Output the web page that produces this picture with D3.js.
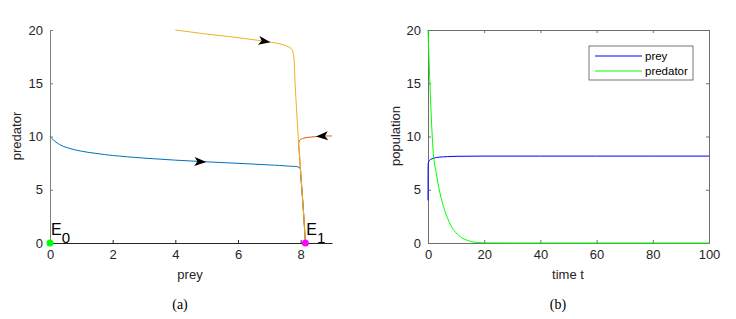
<!DOCTYPE html>
<html>
<head>
<meta charset="utf-8">
<script src="https://cdn.jsdelivr.net/npm/d3@7"></script>
<style>
  body { margin: 0; background: #fff; }
  svg { display: block; font-family: Helvetica, Arial, "Liberation Sans", sans-serif; }
  .tick text { fill: #262626; font-size: 13px; }
</style>
</head>
<body>
<svg id="chart" width="736" height="319"></svg>
<script>
// ---- data: phase portrait (a) ----
var blueTraj = [[0,10],[0.1,9.7],[0.3,9.25],[0.6,8.9],[1,8.62],[1.5,8.4],[2,8.22],[3,7.97],[4,7.78],[5,7.62],[6,7.48],[7,7.33],[7.6,7.22],[7.97,7.06],[8.0,6.3],[8.04,5],[8.1,2.5],[8.15,0]];
var yellowTraj = [[4,20],[5,19.62],[6,19.28],[6.8,18.96],[7.3,18.72],[7.55,18.5],[7.7,18.25],[7.77,17.7],[7.82,15],[7.87,12.5],[7.92,10],[7.98,7.5],[8.04,5],[8.1,2.5],[8.15,0]];
var redTraj = [[9,10.05],[8.8,10.05],[8.6,10.02],[8.35,9.95],[8.1,9.85],[7.96,9.6],[7.97,8],[8.04,5],[8.1,2.5],[8.15,0]];
var arrows = [
  { x: 4.8, y: 7.63, dir: 1, traj: "blue" },
  { x: 6.85, y: 18.94, dir: 1, traj: "yellow" },
  { x: 8.68, y: 10.04, dir: -1, traj: "red" }
];
var equilibria = [
  { x: 0, y: 0, label: "E", sub: "0", color: "#00ff00" },
  { x: 8.15, y: 0, label: "E", sub: "1", color: "#ff00ff" }
];
var phaseXTicks = [0, 2, 4, 6, 8];
var phaseYTicks = [0, 5, 10, 15, 20];

// ---- data: time series (b) ----
var preyT = [0, 0.05, 0.3, 0.8, 2, 4, 7, 10, 20, 40, 60, 80, 100];
var preyV = [4, 7.4, 7.65, 7.82, 7.96, 8.06, 8.11, 8.14, 8.16, 8.16, 8.16, 8.16, 8.16];
var predT = [0, 1.9, 3, 4, 5, 6, 7, 8, 10, 12, 14, 16, 18, 20, 30, 100];
var predV = [20, 8.4, 6.5, 5.0, 3.9, 3.0, 2.3, 1.7, 0.95, 0.5, 0.25, 0.1, 0.04, 0.01, 0, 0];
var timeTicks = [0, 20, 40, 60, 80, 100];
var popTicks = [0, 5, 10, 15, 20];

var svg = d3.select("#chart");

// ===== panel (a) =====
var xA = d3.scaleLinear().domain([0, 9]).range([50, 332]);
var yA = d3.scaleLinear().domain([0, 20]).range([243, 30]);

var gA = svg.append("g");

gA.append("g")
    .attr("transform", "translate(0,243)")
    .call(d3.axisBottom(xA).tickValues(phaseXTicks).tickSize(-3).tickPadding(7).tickSizeOuter(0))
    .call(function(g) {
      g.select(".domain").attr("stroke", "#262626");
      g.selectAll(".tick line").attr("stroke", "#262626");
    });

gA.append("g")
    .attr("transform", "translate(50,0)")
    .call(d3.axisLeft(yA).tickValues(phaseYTicks).tickSize(-3).tickPadding(7).tickSizeOuter(0))
    .call(function(g) {
      g.select(".domain").attr("stroke", "#808080");
      g.selectAll(".tick line").attr("stroke", "#808080");
    });

var lineAh = d3.line()
    .x(function(d) { return xA(d[0]); })
    .y(function(d) { return yA(d[1]); })
    .curve(d3.curveCatmullRom.alpha(0.5));

gA.append("path").datum(blueTraj).attr("d", lineAh)
    .attr("fill", "none").attr("stroke", "#0072BD").attr("stroke-width", 1);
gA.append("path").datum(redTraj).attr("d", lineAh)
    .attr("fill", "none").attr("stroke", "#D95319").attr("stroke-width", 1);
gA.append("path").datum(yellowTraj).attr("d", lineAh)
    .attr("fill", "none").attr("stroke", "#EDB120").attr("stroke-width", 1);

// arrowheads
var arrowShape = "M6,0 L-6,-4.5 L-3,0 L-6,4.5 Z";
var trajMap = { blue: blueTraj, yellow: yellowTraj, red: redTraj };
arrows.forEach(function(a) {
  // local slope from trajectory
  var t = trajMap[a.traj], ang = 0;
  for (var i = 0; i < t.length - 1; i++) {
    var x0 = Math.min(t[i][0], t[i+1][0]), x1 = Math.max(t[i][0], t[i+1][0]);
    if (a.x >= x0 && a.x <= x1) {
      var dx = xA(t[i+1][0]) - xA(t[i][0]), dy = yA(t[i+1][1]) - yA(t[i][1]);
      ang = Math.atan2(dy * a.dir * Math.sign(dx), Math.abs(dx) * a.dir) * 180 / Math.PI;
      break;
    }
  }
  gA.append("path")
      .attr("d", arrowShape)
      .attr("fill", "#000")
      .attr("transform", "translate(" + xA(a.x) + "," + yA(a.y) + ") rotate(" + ang + ")");
});

gA.selectAll("circle.eq").data(equilibria).enter().append("circle")
    .attr("class", "eq")
    .attr("cx", function(d) { return xA(d.x); })
    .attr("cy", function(d) { return yA(d.y); })
    .attr("r", 3.5)
    .attr("fill", function(d) { return d.color; });

var eqText = gA.selectAll("text.eq").data(equilibria).enter().append("text")
    .attr("class", "eq")
    .attr("x", function(d) { return xA(d.x) + 1; })
    .attr("y", function(d) { return yA(d.y) - 8; })
    .attr("font-size", "16px")
    .attr("fill", "#000");
eqText.append("tspan").text(function(d) { return d.label; });
eqText.append("tspan").attr("dy", 8).attr("font-size", "15px").text(function(d) { return d.sub; });

gA.append("text")
    .attr("transform", "translate(21,136) rotate(-90)")
    .attr("text-anchor", "middle")
    .attr("font-size", "13px").attr("fill", "#262626")
    .text("predator");
gA.append("text")
    .attr("x", 190).attr("y", 279)
    .attr("text-anchor", "middle")
    .attr("font-size", "13px").attr("fill", "#262626")
    .text("prey");
gA.append("text")
    .attr("x", 180).attr("y", 309)
    .attr("text-anchor", "middle")
    .attr("font-family", "'Liberation Serif', 'DejaVu Serif', serif")
    .attr("font-size", "14px").attr("fill", "#000")
    .text("(a)");

// ===== panel (b) =====
var xB = d3.scaleLinear().domain([0, 100]).range([428, 709]);
var yB = d3.scaleLinear().domain([0, 20]).range([243, 30]);

var gB = svg.append("g");

gB.append("g")
    .attr("transform", "translate(0,243)")
    .call(d3.axisBottom(xB).tickValues(timeTicks).tickSize(-3).tickPadding(7).tickSizeOuter(0));
gB.append("g")
    .attr("transform", "translate(0,30)")
    .call(d3.axisTop(xB).tickValues(timeTicks).tickSize(-3).tickFormat("").tickSizeOuter(0));
gB.append("g")
    .attr("transform", "translate(428,0)")
    .call(d3.axisLeft(yB).tickValues(popTicks).tickSize(-3).tickPadding(7).tickSizeOuter(0));
gB.append("g")
    .attr("transform", "translate(709,0)")
    .call(d3.axisRight(yB).tickValues(popTicks).tickSize(-3).tickFormat("").tickSizeOuter(0));
gB.selectAll(".domain").attr("stroke", "#6e6e6e");
gB.selectAll(".tick line").attr("stroke", "#6e6e6e");

var lineB = d3.line()
    .x(function(d) { return xB(d[0]); })
    .y(function(d) { return yB(d[1]); })
    .curve(d3.curveMonotoneX);

gB.append("path").datum(preyT.map(function(t, i) { return [t, preyV[i]]; }))
    .attr("d", lineB)
    .attr("fill", "none").attr("stroke", "#0000ff").attr("stroke-width", 1);
gB.append("path").datum(predT.map(function(t, i) { return [t, predV[i]]; }))
    .attr("d", lineB)
    .attr("fill", "none").attr("stroke", "#00ff00").attr("stroke-width", 1);

// legend
var leg = gB.append("g").attr("transform", "translate(589,46)");
leg.append("rect").attr("width", 104).attr("height", 34)
    .attr("fill", "#fff").attr("stroke", "#555").attr("stroke-width", 0.8);
var legItems = [["prey", "#0000ff"], ["predator", "#00ff00"]];
legItems.forEach(function(d, i) {
  leg.append("line").attr("x1", 6).attr("x2", 53)
      .attr("y1", 10 + i * 15).attr("y2", 10 + i * 15)
      .attr("stroke", d[1]).attr("stroke-width", 1);
  leg.append("text").attr("x", 56).attr("y", 14 + i * 15)
      .attr("font-size", "11.5px").attr("fill", "#000").text(d[0]);
});

gB.append("text")
    .attr("transform", "translate(400,136) rotate(-90)")
    .attr("text-anchor", "middle")
    .attr("font-size", "13px").attr("fill", "#262626")
    .text("population");
gB.append("text")
    .attr("x", 568).attr("y", 279)
    .attr("text-anchor", "middle")
    .attr("font-size", "13px").attr("fill", "#262626")
    .text("time t");
gB.append("text")
    .attr("x", 558).attr("y", 309)
    .attr("text-anchor", "middle")
    .attr("font-family", "'Liberation Serif', 'DejaVu Serif', serif")
    .attr("font-size", "14px").attr("fill", "#000")
    .text("(b)");
</script>
</body>
</html>
